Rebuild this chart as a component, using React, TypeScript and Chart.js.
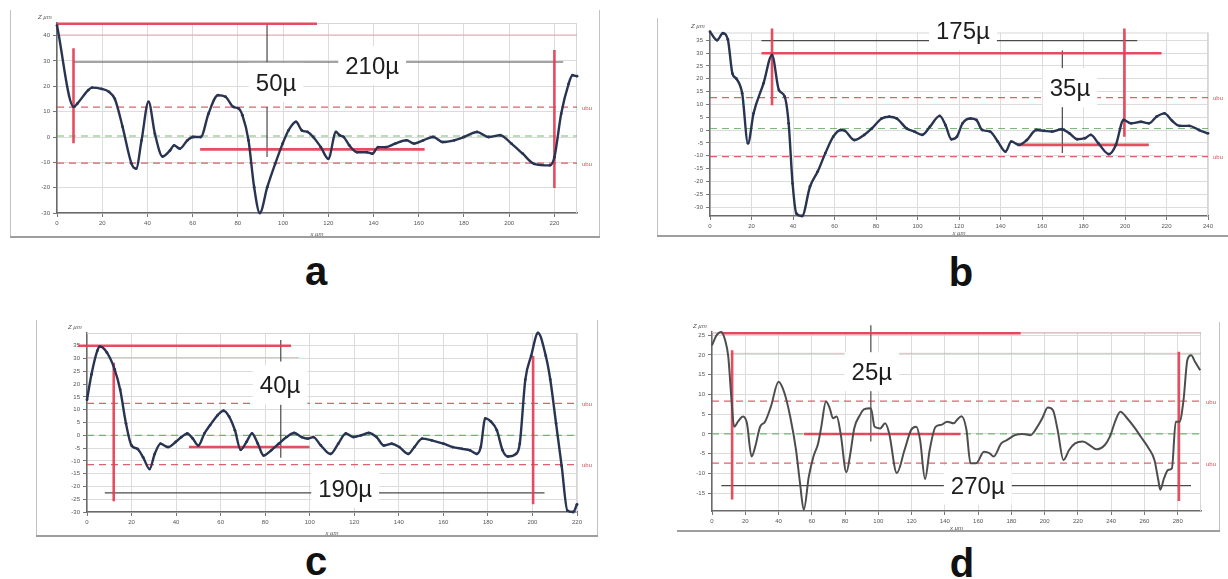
import React, { useEffect, useRef } from "react";
import { Chart, registerables } from "chart.js";

Chart.register(...registerables);

const FONT = '"Liberation Sans", Arial, sans-serif';
const RED = "rgba(228,62,84,0.92)";

// ---------------- panel a ----------------
const aX = [0, 7.4, 9, 13.8, 15.5, 19.7, 23, 25.6, 29, 33, 35, 37.4, 40.5, 43.3, 46.7, 50, 51.8, 54.3, 57.7, 60.2, 63.6, 67, 71.2, 74.5, 78, 80.4, 82, 84.7, 87.2, 89.7, 93, 96.5, 99.8, 102.4, 105.7, 108.3, 110.8, 113.3, 116.7, 120, 123.4, 125, 126.8, 129.3, 132.7, 137, 139.5, 142, 145.4, 149.6, 154.6, 158, 162, 166.4, 170.6, 175.7, 180, 185.8, 190.9, 196, 201, 206, 211, 218, 220, 223, 226.3, 228, 230];
const aY = [44, 11.9, 13.2, 18.5, 19.5, 19, 17.8, 15, 4, -10.6, -12.5, -1.3, 13.9, 1.3, -7.7, -5.3, -3.3, -4.6, -1.3, 0, 0, 9.2, 16.5, 15.9, 11.9, 11.2, 8.6, -1.3, -19.8, -30, -19.8, -10.6, -2.6, 2.6, 6, 2.6, 2, 0, -4, -8.6, 2, 0.7, 0, -3.3, -6, -6, -6.6, -4, -4, -2.6, -1.3, -2.6, -1.3, 0, -2, -1.3, 0, 2, 0, 0.7, -2.6, -6.6, -10.6, -11.2, -8, 9.2, 21, 24.4, 24];
const aXTicks = [0, 20, 40, 60, 80, 100, 120, 140, 160, 180, 200, 220];
const aYTicks = [-30, -20, -10, 0, 10, 20, 30, 40];
const aRed = [[0, 44.7, 115, 44.7], [7.3, 35, 7.3, -2.5], [220, 34.3, 220, -20.1], [63.3, -4.9, 162.6, -4.9]];
const aBlack = [[7.1, 29.6, 223.9, 29.6], [92.9, 44.7, 92.9, 29.6], [92.9, 11.8, 92.9, -7.9]];
const aPink = [[0, 40.3, 230, 40.3]];
const aRedDash = [11.8, -10.3];
const aGreenDash = [0.4];
const aLabels = ["210µ", "50µ"];
const aLabelX = [139.4, 96.9];
const aLabelY = [24.9, 18.2];

// ---------------- panel b ----------------
const bX = [0, 3.4, 6.2, 8.6, 10.8, 12.7, 15.5, 18.3, 21, 25.8, 29.9, 33.2, 36, 37.9, 39.8, 41.6, 44.4, 48.2, 51.9, 55.6, 59.4, 63, 65, 69.6, 74.3, 78, 82.7, 86.4, 90, 94.8, 98.5, 102.3, 106, 110.7, 113.5, 116.3, 119, 121.7, 125.6, 128.4, 131.2, 135, 138.7, 142.4, 145.2, 149, 152.7, 157.3, 161, 164.8, 169.5, 173.2, 177, 180.7, 183.5, 187.2, 192.2, 195.6, 199.3, 203, 207.7, 211.5, 215.2, 219, 222.7, 226.4, 231, 235.7, 240];
const bY = [38.3, 35, 37.7, 35.3, 22, 20, 14.3, -5.2, 6.5, 18.2, 29.2, 15.6, 13, 2.6, -20.8, -32.5, -33.5, -22, -16.2, -9, -2.6, 0, -0.3, -3.9, -1.9, 0.6, 4.5, 5.2, 4.5, 0.6, -0.6, -1.9, 1.3, 5.5, 1.9, -3.6, -2.6, 2.6, 4.5, 3.9, 0, -0.6, -4.5, -8.4, -4.5, -5.8, -3.9, 0, -0.3, -0.6, 0.3, -1.3, -3.6, -3.2, -1.9, -5.2, -9.4, -5.8, 3.9, 2.6, 3.2, 2.6, 5.2, 6.5, 3.6, 1.6, 1.6, 0, -1.3];
const bXTicks = [0, 20, 40, 60, 80, 100, 120, 140, 160, 180, 200, 220, 240];
const bYTicks = [-30, -25, -20, -15, -10, -5, 0, 5, 10, 15, 20, 25, 30, 35];
const bRed = [[29.9, 39.6, 29.9, 9.7], [24.8, 29.9, 217.6, 29.9], [199.7, 39.6, 199.7, -2.6], [148, -5.8, 211.5, -5.8]];
const bBlack = [[24.8, 34.8, 205.9, 34.8], [169.8, 31, 169.8, 20.8], [169.8, 11.7, 169.8, -9]];
const bPink: number[][] = [];
const bRedDash = [12.6, -10.4];
const bGreenDash = [0.6];
const bLabels = ["175µ", "35µ"];
const bLabelX = [121.9, 173.5];
const bLabelY = [35.4, 13.2];

// ---------------- panel c ----------------
const cX = [0, 2, 4.6, 5.8, 8.9, 12.4, 14.9, 17.5, 20, 22.6, 25.2, 28.1, 30.4, 33, 36.4, 39.8, 42.4, 45, 47.5, 50, 52.7, 55.3, 58.7, 61.3, 63.8, 66.4, 69, 71.6, 74.1, 76.7, 79.3, 82.7, 86.1, 89.6, 93, 96.4, 99, 101.6, 105, 109.3, 112.8, 116.2, 119.6, 123, 126.5, 130, 133.3, 136.8, 140.2, 144.2, 147, 150.5, 154.8, 160, 164.2, 168.5, 172, 175, 176.8, 178.8, 181.4, 184, 186.6, 189, 192.6, 194.3, 196.8, 199.4, 202.5, 206, 208, 210.6, 213.1, 215.7, 218.3, 220];
const cY = [13.9, 23.8, 33, 34.7, 32.4, 25.8, 17.8, 4.6, -4, -5.3, -8.6, -13.2, -7.3, -3.3, -4.6, -2.6, -0.7, 0.7, -1.3, -4, 0.7, 4, 7.9, 9.6, 7.3, 2, -5.7, -2.6, 0.7, -3.3, -7.9, -5.9, -3.3, -0.7, 0.9, -0.7, -1.3, -0.7, -4, -7.3, -3.3, 0.7, -0.7, 0, 0.9, -0.7, -4, -3.3, -4.6, -7.3, -4.6, -1.3, -2, -3.3, -4.6, -5.3, -5.9, -7.3, -4.6, 6.6, 5.3, 2, -5.9, -8.3, -7.3, -3.3, 21.8, 31, 40, 31, 21.8, 4.6, -11.9, -29.5, -30, -27];
const cXTicks = [0, 20, 40, 60, 80, 100, 120, 140, 160, 180, 200, 220];
const cYTicks = [-30, -25, -20, -15, -10, -5, 0, 5, 10, 15, 20, 25, 30, 35];
const cRed = [[-4, 35, 91.6, 35], [12, 28.4, 12, -25.8], [200.3, 31, 200.3, -27], [45.8, -4.6, 99.9, -4.6]];
const cBlack = [[8, -22.5, 205.4, -22.5], [87, 37.3, 87, 28.9], [87, 11.9, 87, -8.8]];
const cPink = [[0, 30.4, 95, 30.4]];
const cRedDash = [12.5, -11.5];
const cGreenDash = [0];
const cLabels = ["40µ", "190µ"];
const cLabelX = [86.7, 115.9];
const cLabelY = [16.4, -24];

// ---------------- panel d ----------------
const dX = [0, 2.8, 5.6, 7.9, 9.8, 11.6, 13.3, 15.6, 18.6, 21, 23.8, 26, 28.9, 31.9, 35.4, 40, 43.6, 47, 50.5, 52.9, 55.2, 58.2, 61, 63.8, 65.7, 68.5, 70.8, 72.7, 75, 77.3, 80.8, 83.2, 85.5, 89, 91.3, 95.5, 97.8, 101.1, 104.1, 106.5, 111.1, 115.8, 119.7, 122.8, 125.1, 128.1, 130.9, 134.4, 137.9, 141.4, 145.4, 147.2, 150, 153, 155.4, 158.9, 163.5, 167, 169.3, 173.9, 177.5, 182.2, 186.8, 191.5, 195, 198.5, 201.9, 205, 207.8, 211.3, 214.8, 218.3, 222.9, 227.6, 231, 236.2, 239.2, 242.7, 245.5, 249.7, 254.4, 257.8, 262.5, 266, 268.3, 269.5, 271.8, 274.2, 276.5, 278.8, 281.1, 283.5, 285.8, 288.1, 290.5, 293.5];
const dY = [22.4, 25, 25.8, 23.7, 19.5, 9.4, 1.8, 3.1, 4.4, 2.7, -5.7, -3.2, 1.8, 3.1, 6.9, 13.2, 10.3, 4.4, -4, -12.4, -19.2, -10.8, -5.7, -2.4, 1.8, 8.2, 6.5, 4, 4.4, 0.2, -9.7, -4.9, 1.4, 4.8, 6.2, 6.5, 1.8, 1.4, 2.7, 0.2, -9.9, -4, 1, 1.8, -1.5, -11.4, -4, 1.8, 2.3, 3.1, 2.7, 3.5, 4.5, 1, -7.4, -7.4, -4.5, -4.9, -5.7, -2.4, -1.5, -0.3, 0, -0.3, 1.4, 3.9, 6.7, 6, 1, -6.6, -4, -2.4, -1.9, -3, -3.9, -2.8, -0.7, 3.5, 5.6, 3.9, 1.4, -0.7, -3.6, -6.6, -11.6, -14.1, -11.2, -9.1, -8.7, 3.1, 3.1, 8.6, 18.7, 19.9, 18.2, 16.1];
const dXTicks = [0, 20, 40, 60, 80, 100, 120, 140, 160, 180, 200, 220, 240, 260, 280];
const dYTicks = [-15, -10, -5, 0, 5, 10, 15, 20, 25];
const dRed = [[5.6, 25.5, 185.6, 25.5], [12.1, 21.2, 12.1, -16.6], [280.7, 20.8, 280.7, -17], [55.2, 0, 149.5, 0]];
const dBlack = [[5.6, -13.1, 288, -13.1], [95.5, 27.5, 95.5, 19.5], [95.5, 11.1, 95.5, -1.9]];
const dPink = [[0, 25.5, 294, 25.5], [12.1, 20.4, 294, 20.4]];
const dRedDash = [8.3, -7.4];
const dGreenDash = [0];
const dLabels = ["25µ", "270µ"];
const dLabelX = [96.1, 159.8];
const dLabelY = [13.6, -15.1];

const panelLetters = ["a", "b", "c", "d"];

interface PanelDef {
  frame: number[]; // left, top, width, height (page px)
  plot: number[]; // left, right, top, bottom (page px)
  xRange: number[];
  yRange: number[];
  xTicks: number[];
  yTicks: number[];
  xs: number[];
  ys: number[];
  curveColor: string;
  curveWidth: number;
  dots: boolean;
  red: number[][];
  black: number[][];
  pink: number[][];
  redDash: number[];
  greenDash: number[];
  labels: string[];
  labelX: number[];
  labelY: number[];
  borderLeft: boolean;
  borderRight: boolean;
}

const panels: PanelDef[] = [
  {
    frame: [10, 10, 590, 228], plot: [57, 577, 23, 213], xRange: [0, 230], yRange: [-30, 45],
    xTicks: aXTicks, yTicks: aYTicks, xs: aX, ys: aY, curveColor: "#283452", curveWidth: 2.4, dots: true,
    red: aRed, black: aBlack, pink: aPink, redDash: aRedDash, greenDash: aGreenDash,
    labels: aLabels, labelX: aLabelX, labelY: aLabelY, borderLeft: true, borderRight: true,
  },
  {
    frame: [657, 18, 571, 219], plot: [710, 1208, 32.5, 216], xRange: [0, 240], yRange: [-33.5, 38],
    xTicks: bXTicks, yTicks: bYTicks, xs: bX, ys: bY, curveColor: "#283452", curveWidth: 2.4, dots: true,
    red: bRed, black: bBlack, pink: bPink, redDash: bRedDash, greenDash: bGreenDash,
    labels: bLabels, labelX: bLabelX, labelY: bLabelY, borderLeft: true, borderRight: false,
  },
  {
    frame: [36, 320, 562, 217], plot: [87, 577, 333, 512], xRange: [0, 220], yRange: [-30, 40],
    xTicks: cXTicks, yTicks: cYTicks, xs: cX, ys: cY, curveColor: "#283452", curveWidth: 2.4, dots: true,
    red: cRed, black: cBlack, pink: cPink, redDash: cRedDash, greenDash: cGreenDash,
    labels: cLabels, labelX: cLabelX, labelY: cLabelY, borderLeft: true, borderRight: true,
  },
  {
    frame: [677, 322, 543, 210], plot: [712, 1201, 332, 511], xRange: [0, 294], yRange: [-19.5, 25.8],
    xTicks: dXTicks, yTicks: dYTicks, xs: dX, ys: dY, curveColor: "#4d4d4d", curveWidth: 2, dots: false,
    red: dRed, black: dBlack, pink: dPink, redDash: dRedDash, greenDash: dGreenDash,
    labels: dLabels, labelX: dLabelX, labelY: dLabelY, borderLeft: false, borderRight: true,
  },
];

const letterPos = [
  [316, 285],
  [961, 286],
  [316, 575],
  [962, 577],
];

function Panel({ def }: { def: PanelDef }) {
  const ref = useRef<HTMLCanvasElement | null>(null);
  const [fl, ft, W, H] = def.frame;

  useEffect(() => {
    const canvas = ref.current;
    if (!canvas) return;
    const [pl, pr, pt, pb] = def.plot;
    const YW = 30;
    const XH = 18;
    const padding = {
      left: pl - fl - YW,
      right: fl + W - pr,
      top: pt - ft,
      bottom: ft + H - pb - XH,
    };

    const seg = (s: number[], color: string, width: number, dash: number[] = []) => ({
      data: [
        { x: s[0], y: s[1] },
        { x: s[2], y: s[3] },
      ],
      borderColor: color,
      borderWidth: width,
      borderDash: dash,
      pointRadius: 0,
      tension: 0,
      clip: false,
      borderCapStyle: "butt",
    });

    const datasets: any[] = [];
    datasets.push({
      data: def.xs.map((x, i) => ({ x, y: def.ys[i] })),
      borderColor: def.curveColor,
      borderWidth: def.curveWidth,
      pointRadius: def.dots ? 1.4 : 0,
      pointBackgroundColor: def.curveColor,
      pointBorderWidth: 0,
      cubicInterpolationMode: "monotone",
      clip: false,
    });
    def.red.forEach((s) => datasets.push(seg(s, RED, 2.6)));
    def.black.forEach((s) => datasets.push(seg(s, "#4a4a4a", 1.2)));
    def.pink.forEach((s) => datasets.push(seg(s, "rgba(232,90,110,0.45)", 1)));
    def.redDash.forEach((v) =>
      datasets.push(seg([def.xRange[0], v, def.xRange[1], v], "rgba(214,72,84,0.85)", 1.3, [7, 5]))
    );
    def.greenDash.forEach((v) =>
      datasets.push(seg([def.xRange[0], v, def.xRange[1], v], "rgba(96,172,96,0.85)", 1.2, [7, 5]))
    );

    const overlay = {
      id: "overlay",
      beforeDraw(chart: any) {
        const ctx = chart.ctx;
        const w = chart.width;
        const h = chart.height;
        ctx.save();
        ctx.fillStyle = "#ffffff";
        ctx.fillRect(0, 0, w, h);
        ctx.strokeStyle = "#c2c2c2";
        ctx.lineWidth = 1;
        ctx.beginPath();
        if (def.borderLeft) {
          ctx.moveTo(0.5, 0);
          ctx.lineTo(0.5, h);
        }
        if (def.borderRight) {
          ctx.moveTo(w - 0.5, 0);
          ctx.lineTo(w - 0.5, h);
        }
        ctx.stroke();
        ctx.restore();
      },
      beforeDatasetsDraw(chart: any) {
        const ctx = chart.ctx;
        const a = chart.chartArea;
        ctx.save();
        ctx.strokeStyle = "#d6d6d6";
        ctx.lineWidth = 1;
        ctx.beginPath();
        ctx.moveTo(a.left, a.top + 0.5);
        ctx.lineTo(a.right, a.top + 0.5);
        ctx.moveTo(a.right - 0.5, a.top);
        ctx.lineTo(a.right - 0.5, a.bottom);
        ctx.stroke();
        ctx.restore();
      },
      afterDatasetsDraw(chart: any) {
        const ctx = chart.ctx;
        const a = chart.chartArea;
        const xs = chart.scales.x;
        const ys = chart.scales.y;
        ctx.save();
        // measurement labels
        ctx.font = `24px ${FONT}`;
        ctx.textBaseline = "alphabetic";
        ctx.textAlign = "center";
        def.labels.forEach((t, i) => {
          const px = xs.getPixelForValue(def.labelX[i]);
          const py = ys.getPixelForValue(def.labelY[i]);
          const tw = ctx.measureText(t).width;
          ctx.fillStyle = "#ffffff";
          ctx.fillRect(px - tw / 2 - 7, py - 28, tw + 14, 39);
          ctx.fillStyle = "#1e1e1e";
          ctx.fillText(t, px, py);
        });
        // small red labels at the end of the tolerance lines
        ctx.font = `6px ${FONT}`;
        ctx.textAlign = "left";
        ctx.textBaseline = "middle";
        ctx.fillStyle = "rgba(205,60,70,0.9)";
        def.redDash.forEach((v) => {
          ctx.fillText("ubu", a.right + 5, ys.getPixelForValue(v) + 1);
        });
        // axis titles
        ctx.fillStyle = "#555";
        ctx.font = `italic 6px ${FONT}`;
        ctx.textAlign = "left";
        ctx.textBaseline = "bottom";
        ctx.fillText("Z µm", a.left - 19, a.top - 3);
        ctx.textAlign = "center";
        ctx.fillText("x µm", (a.left + a.right) / 2, chart.height - 1);
        // bottom frame line
        ctx.strokeStyle = "#9e9e9e";
        ctx.lineWidth = 2;
        ctx.beginPath();
        ctx.moveTo(0, chart.height - 1);
        ctx.lineTo(chart.width, chart.height - 1);
        ctx.stroke();
        ctx.restore();
      },
    };

    const tickFont = { family: FONT, size: 6 };
    const chart = new Chart(canvas, {
      type: "line",
      data: { datasets },
      options: {
        animation: false,
        responsive: false,
        devicePixelRatio: 1,
        events: [],
        layout: { padding },
        plugins: {
          legend: { display: false },
          tooltip: { enabled: false },
        },
        scales: {
          x: {
            type: "linear",
            min: def.xRange[0],
            max: def.xRange[1],
            afterBuildTicks: (s: any) => {
              s.ticks = def.xTicks.map((v) => ({ value: v }));
            },
            afterFit: (s: any) => {
              s.height = XH;
            },
            ticks: {
              font: tickFont,
              color: "#555",
              padding: 3,
              maxRotation: 0,
              autoSkip: false,
            },
            grid: { color: "#dcdcdc", lineWidth: 1, tickLength: 4, tickColor: "#777" },
            border: { display: true, color: "#6a6a6a", width: 1.5 },
          },
          y: {
            type: "linear",
            min: def.yRange[0],
            max: def.yRange[1],
            afterBuildTicks: (s: any) => {
              s.ticks = def.yTicks.map((v) => ({ value: v }));
            },
            afterFit: (s: any) => {
              s.width = YW;
            },
            ticks: {
              font: tickFont,
              color: "#555",
              padding: 3,
              autoSkip: false,
            },
            grid: { color: "#dcdcdc", lineWidth: 1, tickLength: 4, tickColor: "#777" },
            border: { display: true, color: "#6a6a6a", width: 1.5 },
          },
        },
      } as any,
      plugins: [overlay],
    });
    return () => chart.destroy();
  }, [def]);

  return (
    <canvas
      ref={ref}
      width={W}
      height={H}
      style={{ position: "absolute", left: fl, top: ft, width: W, height: H }}
    />
  );
}

export default function App() {
  return (
    <div
      style={{
        position: "fixed",
        left: 0,
        top: 0,
        width: 1228,
        height: 579,
        overflow: "hidden",
        background: "#ffffff",
      }}
    >
      {panels.map((p, i) => (
        <Panel key={i} def={p} />
      ))}
      {panelLetters.map((t, i) => (
        <div
          key={t}
          style={{
            position: "absolute",
            left: letterPos[i][0] - 30,
            top: letterPos[i][1] - 34,
            width: 60,
            textAlign: "center",
            font: `bold 40px ${FONT}`,
            lineHeight: "40px",
            color: "#111",
          }}
        >
          {t}
        </div>
      ))}
    </div>
  );
}
